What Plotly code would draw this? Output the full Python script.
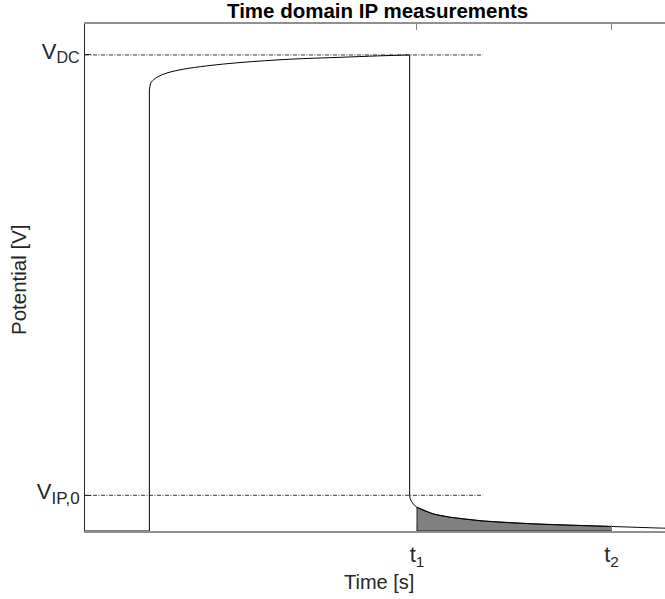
import plotly.graph_objects as go

# ---- data ----
title_text = "Time domain IP measurements"
x_label = "Time [s]"
y_label = "Potential [V]"

x_tick_vals = [5.675, 9.0]
x_tick_text = ["t<sub>1</sub>", "t<sub>2</sub>"]
y_tick_vals = [0.075, 1.0]
y_tick_text = ["V<sub><span style='font-size:17px'>IP,0</span></sub>",
               "V<sub><span style='font-size:16px'>DC</span></sub>"]

x_range = [0.0, 9.915]
y_range = [0.0, 1.065]

# reference (dash-dot) levels
ref_levels = [1.0, 0.075]
ref_x = [0.0, 6.80]

# signal: off before switch-on
off_t = [0.0, 1.10]
off_v = [0.0, 0.0]
# switch-on jump
on_t = [1.10, 1.10]
on_v = [0.0, 0.926]
# charging curve
charge_t = [1.10, 1.12, 1.14, 1.23, 1.40, 1.68, 2.08, 2.65, 3.50, 4.36, 5.00, 5.55]
charge_v = [0.926, 0.939, 0.944, 0.953, 0.962, 0.970, 0.977, 0.984, 0.991, 0.995, 0.998, 1.0]
# switch-off drop
drop_t = [5.55, 5.55]
drop_v = [1.0, 0.075]
# decay curve
decay_t = [5.55, 5.56, 5.61, 5.675, 5.95, 6.24, 6.81, 7.66, 9.00, 9.89, 10.0]
decay_v = [0.075, 0.068, 0.057, 0.050, 0.036, 0.029, 0.021, 0.015, 0.0095, 0.006, 0.0058]

# integration window
t1 = 5.675
t2 = 9.0

font_family = "Liberation Sans, Arial, Helvetica, sans-serif"

W, H = 665, 599
ML, MR, MT, MB = 85, 0, 24, 68
PW, PH = W - ML - MR, H - MT - MB


def px_x(px):
    return (px - ML) / PW


def px_y(py):
    return 1 - (py - MT) / PH


fig = go.Figure()

# shaded integral between t1 and t2
win_t = [t for t in decay_t if t1 <= t <= t2]
win_v = [v for t, v in zip(decay_t, decay_v) if t1 <= t <= t2]
fig.add_trace(go.Scatter(
    x=[t1] + win_t + [t2, t1],
    y=[0.0] + win_v + [0.0, 0.0],
    mode="lines", fill="toself", fillcolor="#808080",
    line=dict(color="#000000", width=0.8),
    hoverinfo="skip", showlegend=False))

# reference levels
for lvl in ref_levels:
    fig.add_trace(go.Scatter(
        x=ref_x, y=[lvl, lvl], mode="lines",
        line=dict(color="#000000", width=0.8, dash="4px,1.5px,1px,1.5px"),
        hoverinfo="skip", showlegend=False))

# signal pieces
for xs, ys, shape in [(off_t, off_v, "linear"), (on_t, on_v, "linear"),
                      (charge_t, charge_v, "spline"), (drop_t, drop_v, "linear"),
                      (decay_t, decay_v, "spline")]:
    fig.add_trace(go.Scatter(
        x=xs, y=ys, mode="lines",
        line=dict(color="#000000", width=1, shape=shape, smoothing=1.0),
        hoverinfo="skip", showlegend=False))

fig.update_layout(
    width=W, height=H,
    margin=dict(l=ML, r=MR, t=MT, b=MB, autoexpand=False),
    paper_bgcolor="white", plot_bgcolor="white",
    font=dict(family=font_family, color="#262626"),
    showlegend=False,
    annotations=[
        dict(text="<b>" + title_text + "</b>", x=px_x(377), y=px_y(10.5),
             xref="paper", yref="paper", xanchor="center", yanchor="middle",
             showarrow=False, font=dict(size=20.5, color="#000000", family=font_family)),
        dict(text=x_label, x=px_x(379), y=px_y(582),
             xref="paper", yref="paper", xanchor="center", yanchor="middle",
             showarrow=False, font=dict(size=20, color="#262626", family=font_family)),
        dict(text=y_label, x=px_x(18), y=px_y(280), textangle=-90,
             xref="paper", yref="paper", xanchor="center", yanchor="middle",
             showarrow=False, font=dict(size=20.5, color="#262626", family=font_family)),
    ],
)

fig.update_xaxes(
    range=x_range, tickmode="array", tickvals=x_tick_vals, ticktext=x_tick_text,
    ticks="inside", ticklen=6, tickcolor="#808080", tickwidth=1,
    showline=True, linecolor="#909090", linewidth=1.5, mirror="ticks",
    showgrid=False, zeroline=False, ticklabelstandoff=3,
    tickfont=dict(size=22, color="#262626", family=font_family),
)
fig.update_yaxes(
    range=y_range, tickmode="array", tickvals=y_tick_vals, ticktext=y_tick_text,
    ticks="inside", ticklen=6, tickcolor="#262626", tickwidth=1,
    showline=True, linecolor="#262626", linewidth=1, mirror=False,
    showgrid=False, zeroline=False, ticklabelshift=-4,
    tickfont=dict(size=22, color="#262626", family=font_family),
)

fig.write_html(
    "out.html",
    config={"displayModeBar": False},
    post_script="document.body.style.margin='0';document.documentElement.style.overflow='hidden';",
)
